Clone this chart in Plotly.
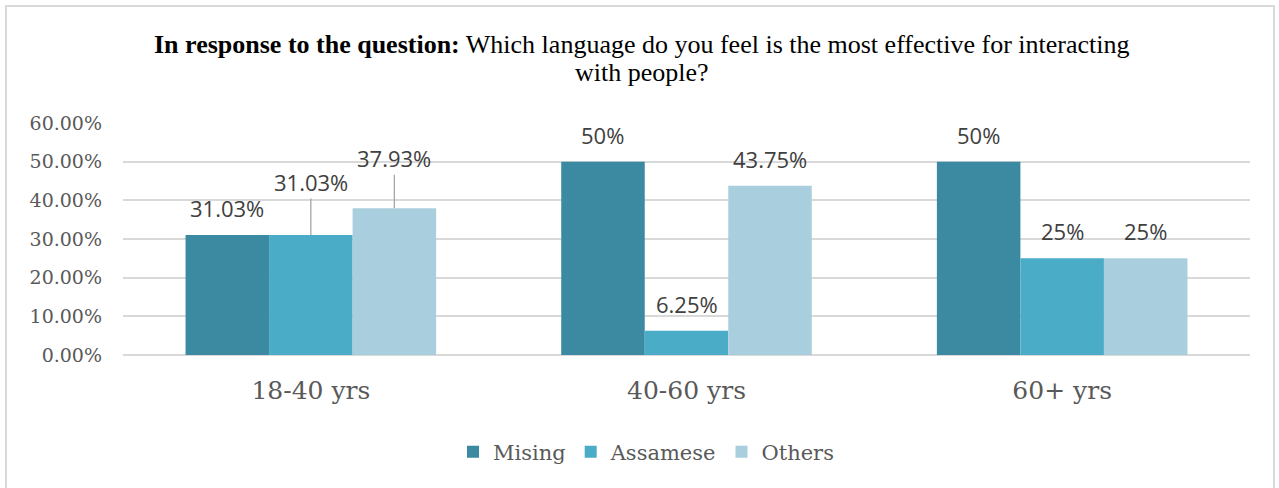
import plotly.graph_objects as go

# Survey data: share of respondents per age group naming each language
age_groups = ["18-40 yrs", "40-60 yrs", "60+ yrs"]
languages = ["Mising", "Assamese", "Others"]
mising = [31.03, 50, 50]
assamese = [31.03, 6.25, 25]
others = [37.93, 43.75, 25]
y_ticks = [0, 10, 20, 30, 40, 50, 60]
title_lines = [
    "<b>In response to the question:</b> Which language do you feel is the most effective for interacting",
    "with people?",
]

series = [mising, assamese, others]
colors = ["#3b8aa1", "#4aacc6", "#a9cfde"]

W, H = 1279, 488
ML, MR, MT, MB = 123, 29, 123, 133
BARGAP = 0.333


def px_x(px):
    return (px - ML) / (W - ML - MR)


def px_y(py):
    return (H - MB - py) / (H - MT - MB)


fig = go.Figure()
for name, vals, col in zip(languages, series, colors):
    fig.add_trace(go.Bar(
        x=age_groups, y=vals, name=name,
        marker=dict(color=col, line=dict(width=0)),
        hoverinfo="skip",
    ))

# value labels above bars; two labels in the first group are lifted with leader lines
lifted = {(0, 1): -53, (0, 2): -50}
bar_w = (1 - BARGAP) / len(series)
annotations = []
for j, vals in enumerate(series):
    for i, v in enumerate(vals):
        xpos = i + (j - (len(series) - 1) / 2) * bar_w
        txt = f"{v:g}%"
        common = dict(x=xpos, y=v, xref="x", yref="y", text=txt,
                      font=dict(family="Open Sans", size=22, color="#404040"))
        if (i, j) in lifted:
            annotations.append(dict(common, showarrow=True, ax=0, ay=lifted[(i, j)],
                                    arrowhead=0, arrowwidth=1.3, arrowcolor="#a6a6a6",
                                    standoff=0, startstandoff=0))
        else:
            annotations.append(dict(common, showarrow=False, yanchor="middle", yshift=27))

# two-line heading, each line placed on its own
for line, ypx in zip(title_lines, [45, 72]):
    annotations.append(dict(
        text=line, xref="paper", yref="paper", x=px_x(642), y=px_y(ypx),
        xanchor="center", yanchor="middle", showarrow=False,
        font=dict(family="Liberation Serif", size=26, color="#000000"),
    ))

# light frame around the whole chart
shapes = [dict(type="rect", xref="paper", yref="paper",
               x0=px_x(6), x1=px_x(1274), y0=px_y(500), y1=px_y(6),
               line=dict(color="#d9d9d9", width=2), fillcolor="rgba(0,0,0,0)", layer="below")]

fig.update_layout(
    width=W, height=H,
    margin=dict(l=ML, r=MR, t=MT, b=MB, pad=0),
    paper_bgcolor="white", plot_bgcolor="white",
    barmode="group", bargap=BARGAP, bargroupgap=0,
    xaxis=dict(
        range=[-0.5, 2.5], showgrid=False, zeroline=False, showline=False,
        ticks="", ticklabelstandoff=18,
        tickfont=dict(family="DejaVu Serif", size=25, color="#595959"),
    ),
    yaxis=dict(
        range=[0, 60], tickvals=y_ticks, ticktext=[f"{t:.2f}%" for t in y_ticks],
        showgrid=True, gridcolor="#d9d9d9", gridwidth=2,
        zeroline=True, zerolinecolor="#d9d9d9", zerolinewidth=2,
        showline=False, ticks="", ticklabelstandoff=20,
        tickfont=dict(family="DejaVu Serif", size=19, color="#595959"),
    ),
    legend=dict(
        orientation="h", xref="container", yref="container",
        x=646 / W, xanchor="center", y=1 - 452 / H, yanchor="middle",
        font=dict(family="DejaVu Serif", size=21, color="#595959"),
        itemclick=False, itemdoubleclick=False,
    ),
    annotations=annotations,
    shapes=shapes,
)

fig.write_html("out.html")
